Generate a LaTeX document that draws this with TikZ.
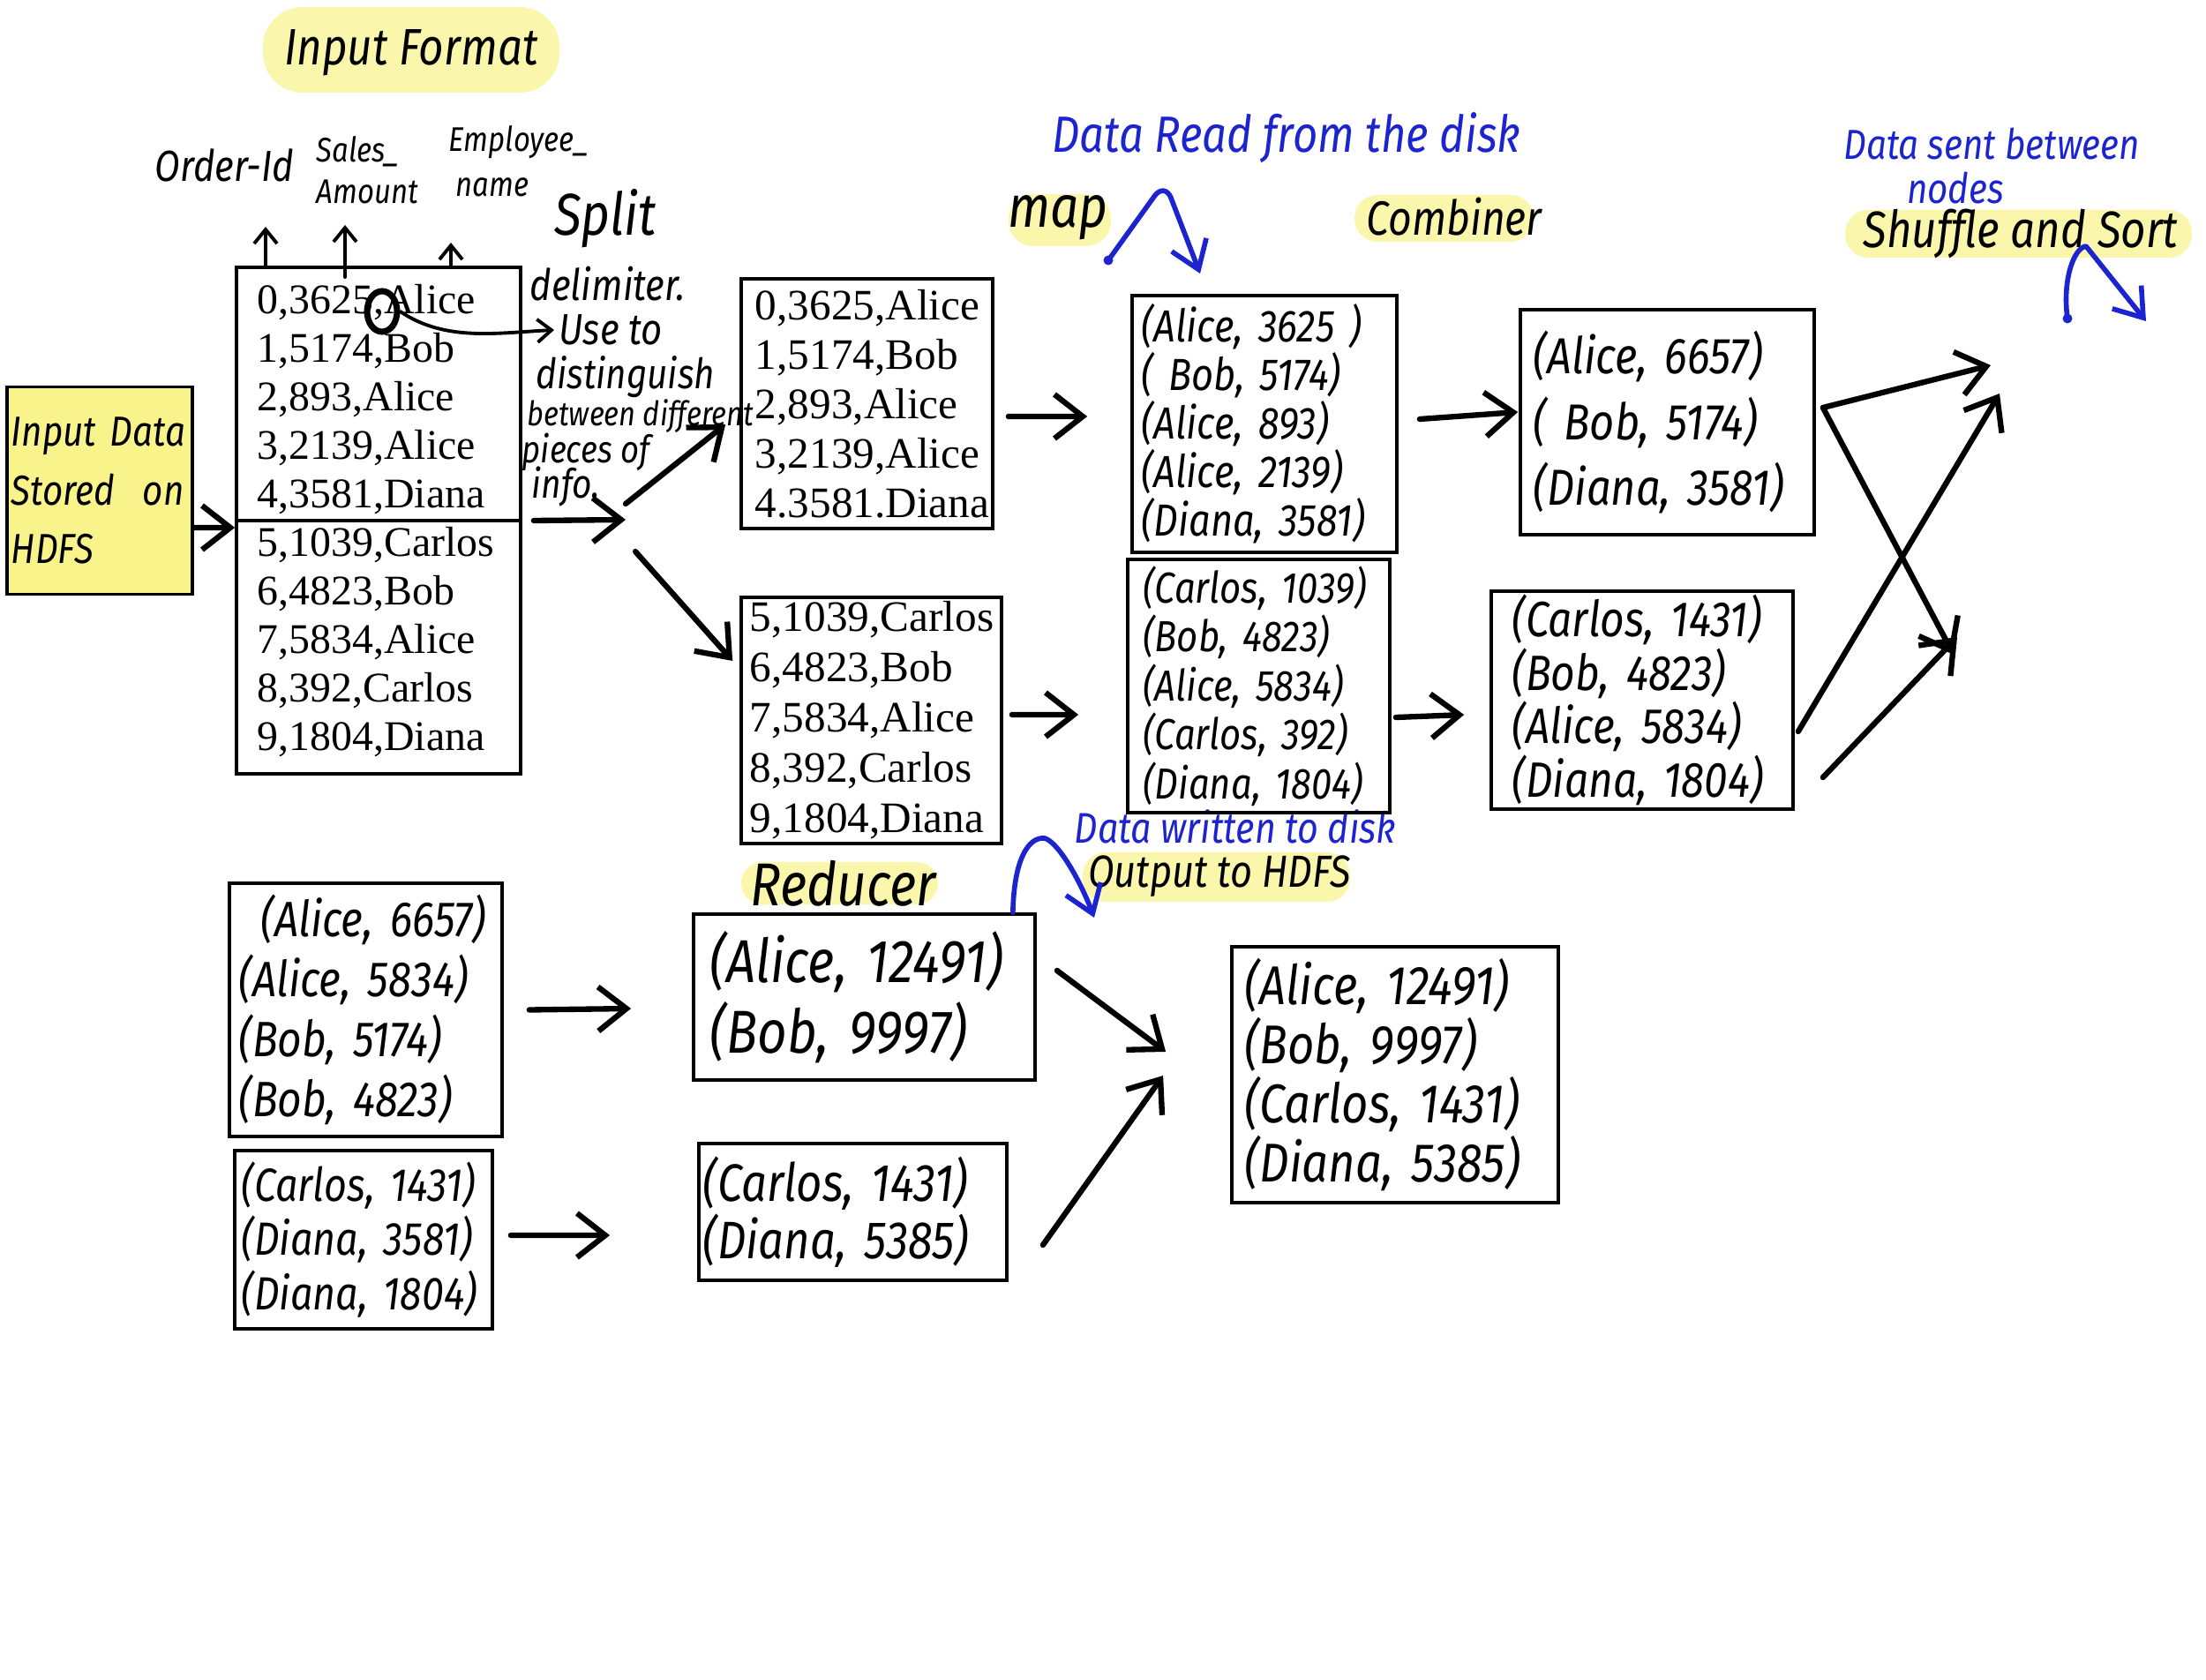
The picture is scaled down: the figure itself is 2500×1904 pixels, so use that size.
\documentclass[tikz,border=0pt]{standalone}
\usepackage{fontspec}
\setmainfont{Liberation Serif}
\newfontfamily\hand{Fira Sans}[FakeStretch=0.85]
\usetikzlibrary{arrows.meta,shapes.geometric}
\definecolor{hl}{RGB}{250,246,172}
\definecolor{hdfsy}{RGB}{249,243,140}
\definecolor{inkblue}{RGB}{28,36,208}
\newcommand{\hwfont}[2]{\fontsize{#1}{#2}\selectfont\hand\itshape}
\newcommand{\tyfont}[2]{\fontsize{#1}{#2}\selectfont\rmfamily}
\tikzset{
  box/.style={draw=black, line width=1pt, align=left, inner ysep=0pt, anchor=center},
  lbl/.style={inner sep=0pt, text=black},
  bluelbl/.style={inner sep=0pt, text=inkblue},
  arr/.style={line width=1.8pt, line cap=round, -{Straight Barb[length=0.32cm,width=0.5cm]}},
  thinarr/.style={line width=1.1pt, line cap=round, -{Straight Barb[length=0.16cm,width=0.26cm]}},
  bluearr/.style={draw=inkblue, line width=1.6pt, line cap=round, line join=round, -{Straight Barb[length=0.3cm,width=0.42cm]}},
}
\begin{document}
\begin{tikzpicture}[x=0.01cm,y=-0.01cm]
\useasboundingbox[fill=white] (0,0) rectangle (2500,1904);

% ---------- yellow highlights ----------
\fill[hl, rounded corners=0.45cm] (298,8) rectangle (634,105);
\fill[hl, rounded corners=0.28cm] (1143,220) rectangle (1259,279);
\fill[hl, rounded corners=0.26cm] (1535,221) rectangle (1738,274);
\fill[hl, rounded corners=0.26cm] (2091,238) rectangle (2484,292);
\fill[hl, rounded corners=0.24cm] (840,977) rectangle (1063,1025);
\fill[hl, rounded corners=0.26cm] (1227,966) rectangle (1530,1022);

% ---------- headings / labels ----------
\node[lbl, font=\hwfont{16.5}{20}] (fmt) at (466,60) {Input Format};
\node[lbl, font=\hwfont{14}{16}, anchor=west] (oid) at (175,187) {Order-Id};
\node[lbl, font=\hwfont{11}{13.4}, align=left, anchor=west] (sales) at (358,193) {Sales\_\\Amount};
\node[lbl, font=\hwfont{11}{14.5}, align=left, anchor=west] (emp) at (508,183) {Employee\_\\\hspace*{0.08cm}name};

\node[lbl, font=\hwfont{19}{22}] (split) at (686,248) {Split};
\node[lbl, font=\hwfont{14}{16}, anchor=west] (delimtxt) at (600,322) {delimiter.};
\node[lbl, font=\hwfont{14}{16}, anchor=west] (useto) at (633,374) {Use to};
\node[lbl, font=\hwfont{13.5}{16}, anchor=west] (disting) at (607,427) {distinguish};
\node[lbl, font=\hwfont{10.9}{13}, anchor=west] (betw) at (597,472) {between different};
\node[lbl, font=\hwfont{12.2}{14}, anchor=west] (pieces) at (591,512) {pieces of};
\node[lbl, font=\hwfont{13}{15}, anchor=west] (info) at (602,552) {info.};

\node[lbl, font=\hwfont{19}{22}] (maplbl) at (1199,247) {map};
\node[lbl, font=\hwfont{15.5}{18}] (comblbl) at (1648,246) {Combiner};
\node[lbl, font=\hwfont{16.5}{19}] (shuflbl) at (2290,265) {Shuffle and Sort};
\node[lbl, font=\hwfont{19.5}{22}] (redlbl) at (956,1001) {Reducer};
\node[lbl, font=\hwfont{14.5}{17}] (outlbl) at (1382,993) {Output to HDFS};

\node[bluelbl, font=\hwfont{16.4}{19}] (readlbl) at (1458,156) {Data Read from the disk};
\node[bluelbl, font=\hwfont{13.5}{16}] (sentlbl) at (2257,163) {Data sent between};
\node[bluelbl, font=\hwfont{13.5}{16}] (nodeslbl) at (2216,213) {nodes};
\node[bluelbl, font=\hwfont{13.8}{16}] (writlbl) at (1400,937) {Data written to disk};

% ---------- boxes ----------
\node[box, fill=hdfsy, minimum height=2.35cm, text width=2.0cm, inner xsep=0.05cm,
      font=\hwfont{13.5}{18.8}] (hdfs) at (113,556) {Input~Data\\Stored~~on\\HDFS};

\node[box, minimum height=5.74cm, text width=2.74cm, inner xsep=0.24cm,
      font=\tyfont{13.6}{15.65}] (inp) at (429,590)
  {0,3625,Alice\\1,5174,Bob\\2,893,Alice\\3,2139,Alice\\4,3581,Diana\\5,1039,Carlos\\6,4823,Bob\\7,5834,Alice\\8,392,Carlos\\9,1804,Diana\\[-0.2cm]};

\node[box, minimum height=2.83cm, text width=2.53cm, inner xsep=0.16cm,
      font=\tyfont{14}{15.9}] (boxA) at (982.5,457.5)
  {0,3625,Alice\\1,5174,Bob\\2,893,Alice\\3,2139,Alice\\4.3581.Diana};
\node[box, minimum height=2.79cm, text width=2.75cm, inner xsep=0.10cm,
      font=\tyfont{14}{16.2}] (boxB) at (987.5,816.5)
  {5,1039,Carlos\\6,4823,Bob\\7,5834,Alice\\8,392,Carlos\\9,1804,Diana};

\node[box, minimum height=2.91cm, text width=2.78cm, inner xsep=0.11cm,
      font=\hwfont{14.5}{15.65}] (mapA) at (1433,480.5)
  {(Alice,~3625~)\\(~Bob,~5174)\\(Alice,~893)\\(Alice,~2139)\\(Diana,~3581)};
\node[box, minimum height=2.87cm, text width=2.62cm, inner xsep=0.175cm,
      font=\hwfont{14}{15.8}] (mapB) at (1426.5,777.5)
  {(Carlos,~1039)\\(Bob,~4823)\\(Alice,~5834)\\(Carlos,~392)\\(Diana,~1804)};

\node[box, minimum height=2.55cm, text width=3.03cm, inner xsep=0.15cm,
      font=\hwfont{16.3}{21.3}] (combA) at (1889.5,478.5)
  {(Alice,~6657)\\(~Bob,~5174)\\(Diana,~3581)};
\node[box, minimum height=2.47cm, text width=2.94cm, inner xsep=0.24cm,
      font=\hwfont{16}{16.2}] (combB) at (1861,793.5)
  {(Carlos,~1431)\\(Bob,~4823)\\(Alice,~5834)\\(Diana,~1804)};

\node[box, minimum height=2.87cm, text width=2.87cm, inner xsep=0.11cm,
      font=\hwfont{16}{19.35}] (rin1) at (414.5,1144.5)
  {\hspace*{0.25cm}(Alice,~6657)\\(Alice,~5834)\\(Bob,~5174)\\(Bob,~4823)};
\node[box, minimum height=2.02cm, text width=2.76cm, inner xsep=0.08cm,
      font=\hwfont{15}{17.6}] (rin2) at (412,1405)
  {(Carlos,~1431)\\(Diana,~3581)\\(Diana,~1804)};

\node[box, minimum height=1.88cm, text width=3.49cm, inner xsep=0.19cm,
      font=\hwfont{19.5}{22.8}] (red1) at (979.5,1130)
  {(Alice,~12491)\\(Bob,~9997)};
\node[box, minimum height=1.55cm, text width=3.39cm, inner xsep=0.05cm,
      font=\hwfont{17}{18.5}] (red2) at (966.5,1373.5)
  {(Carlos,~1431)\\(Diana,~5385)};

\node[box, minimum height=2.90cm, text width=3.40cm, inner xsep=0.15cm,
      font=\hwfont{17.6}{19.1}] (final) at (1581,1218)
  {(Alice,~12491)\\(Bob,~9997)\\(Carlos,~1431)\\(Diana,~5385)};

% ---------- delimiter mark ----------
\node[draw, ellipse, line width=2pt, minimum width=0.34cm, minimum height=0.46cm, inner sep=0pt] (delim) at (433,353) {};
\draw[thinarr] (delim.east) .. controls (505,388) and (565,377) .. ([xshift=-0.05cm]useto.west);

% ---------- up arrows to field names ----------
\coordinate (oidt) at (301,257);
\coordinate (salt) at (391,255);
\coordinate (empt) at (511,275);
\draw[thinarr] (oidt |- inp.north) -- (oidt);
\draw[thinarr] ([yshift=-0.13cm]inp.north -| salt) -- (salt);
\draw[thinarr] (empt |- inp.north) -- (empt);

% ---------- input side ----------
\draw[arr] ([yshift=-0.42cm]hdfs.east) -- ([yshift=-0.08cm]inp.west);
\draw[line width=1pt] (inp.west) -- (inp.east);
\coordinate (splitpt) at (709,589);
\draw[arr] ([xshift=0.13cm]inp.east) -- (splitpt);
\draw[arr] ([yshift=0.18cm]splitpt) -- ([xshift=-0.16cm,yshift=-0.235cm]boxA.west);
\draw[arr] ([xshift=0.11cm,yshift=-0.36cm]splitpt) -- ([xshift=-0.08cm,yshift=0.675cm]boxB.west);

% ---------- map / combiner arrows ----------
\draw[arr] ([xshift=0.16cm,yshift=-0.145cm]boxA.east) -- ([xshift=-0.49cm,yshift=0.085cm]mapA.west);
\draw[arr] ([xshift=0.10cm,yshift=0.065cm]boxB.east) -- ([xshift=-0.54cm,yshift=-0.325cm]mapB.west);
\draw[arr] ([xshift=0.24cm,yshift=0.055cm]mapA.east) -- ([xshift=-0.01cm,yshift=0.115cm]combA.west);
\draw[arr] ([xshift=0.05cm,yshift=-0.355cm]mapB.east) -- ([xshift=-0.29cm,yshift=-0.165cm]combB.west);

% ---------- shuffle arrows ----------
\coordinate (sh1) at (2256,414);
\coordinate (sh2) at (2214,742);
\coordinate (sh3) at (2266,446);
\coordinate (sh4) at (2218,722);
\draw[arr] ([xshift=0.08cm,yshift=0.165cm]combA.east) -- (sh1);
\draw[arr] ([xshift=0.08cm,yshift=0.165cm]combA.east) -- (sh2);
\draw[arr] ([xshift=0.04cm,yshift=-0.355cm]combB.east) -- (sh3);
\draw[arr] ([xshift=0.32cm,yshift=-0.875cm]combB.east) -- (sh4);

% ---------- reducer arrows ----------
\draw[arr] ([xshift=0.29cm]rin1.east) -- ([xshift=-0.69cm,yshift=-0.13cm]red1.west);
\draw[arr] ([xshift=0.19cm,yshift=0.05cm]rin2.east) -- ([xshift=-0.99cm,yshift=-0.265cm]red2.west);
\draw[arr] ([xshift=0.23cm,yshift=0.30cm]red1.east) -- ([xshift=-0.73cm,yshift=0.26cm]final.west);
\draw[arr] ([xshift=0.39cm,yshift=-0.375cm]red2.east) -- ([xshift=-0.76cm,yshift=-0.01cm]final.west);

% ---------- blue hand arrows ----------
\coordinate (rb1) at (1256,295);
\coordinate (rb2) at (1320,206);
\coordinate (rb3) at (1360,310);
\fill[inkblue] (rb1) circle (0.055cm);
\draw[bluearr, rounded corners=0.2cm] (rb1) -- (rb2) -- (rb3);

\coordinate (sb1) at (2343,361);
\coordinate (sb2) at (2364,279);
\coordinate (sb3) at (2432,364);
\fill[inkblue] (sb1) circle (0.055cm);
\draw[bluearr] (sb1) .. controls (2337,318) and (2350,281) .. (sb2) -- (sb3);

\coordinate (ob2) at (1184,950);
\coordinate (ob3) at (1240,1040);
\draw[bluearr] ([xshift=-0.27cm]red1.north east) .. controls (1149,975) and (1165,948) .. (ob2) .. controls (1200,955) and (1225,1000) .. (ob3);
\end{tikzpicture}
\end{document}
